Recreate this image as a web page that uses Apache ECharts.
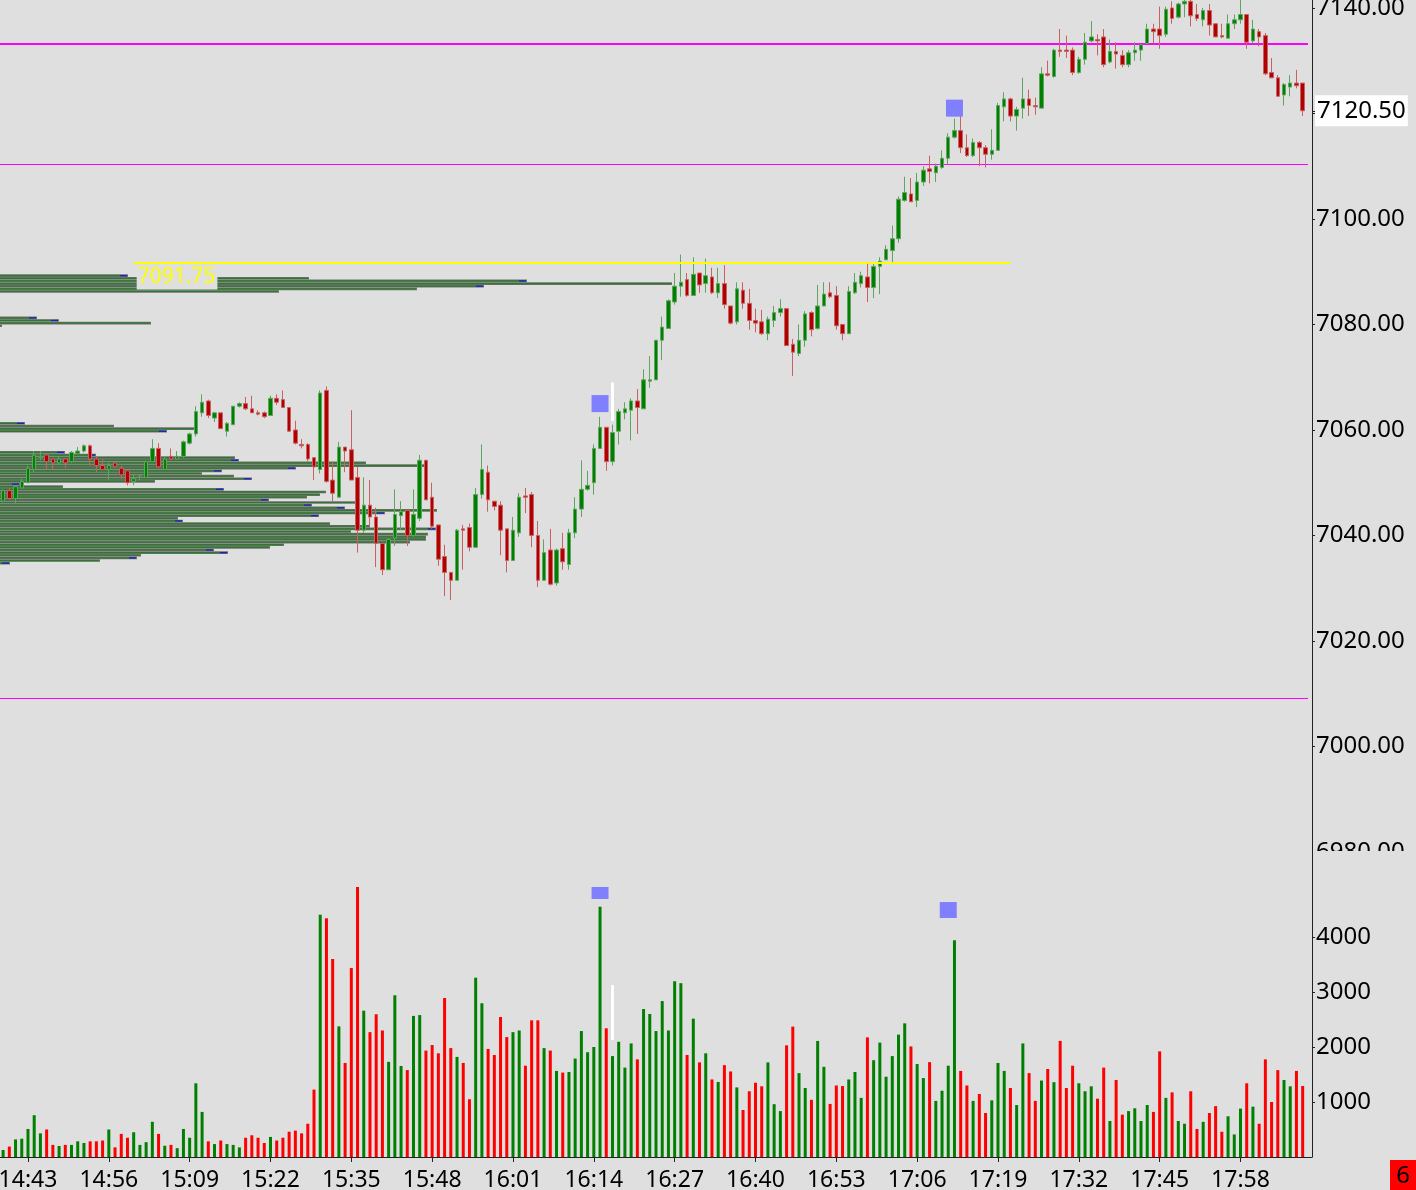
<!DOCTYPE html>
<html><head><meta charset="utf-8">
<script src="https://cdn.jsdelivr.net/npm/echarts@6/dist/echarts.min.js"></script>
<style>html,body{margin:0;padding:0;background:#dfdfdf;overflow:hidden}#c{width:1416px;height:1190px}</style>
</head><body><div id="c"></div>
<script>
// ---------- DATA ----------
const startMinute = 14 * 60 + 39;   // first bar 14:39, one-minute bars
const barCount = 211;               // category slots (last one empty)
const opens = [7046.5,7048.5,7047,7049,7050,7052.5,7054.75,7055.25,7054.5,7053.75,7054.5,7054,7055.5,7056,7057,7054.5,7053.25,7052.5,7053.75,7052.75,
7052.25,7050.25,7051,7051,7054,7056.5,7052.5,7055,7054.5,7055,7057.5,7059.25,7063.25,7065.5,7062.25,7063.25,7059.75,7061,7064.5,7065,
7064,7063.25,7063.25,7062.75,7066,7065.75,7064.25,7060,7057.25,7057.25,7054.75,7052.5,7067.5,7050.5,7047.25,7056.75,7056.25,7051,7041,7045.75,
7043.5,7038.5,7033.5,7039.5,7043.75,7044.75,7040,7043.25,7054.25,7047.25,7042,7036,7033,7031.5,7041.25,7041.5,7037.75,7047.75,7052,7046.5,
7045.75,7041.25,7035.25,7040.5,7047.5,7047.75,7040,7031.5,7037.25,7031,7037.5,7034.5,7040.5,7045,7048.75,7050,7056.5,7060.5,7054,7059.75,
7063.25,7063.75,7065.5,7064,7069.25,7069.5,7077,7079.25,7084.25,7087.25,7088.5,7085.5,7089.75,7087.75,7089,7086,7087.75,7083.5,7080.5,7086.5,
7084,7080.75,7080.5,7078.25,7080.75,7082.25,7083,7076.25,7074.5,7077,7082.25,7079.25,7083.5,7086,7085.5,7080,7078.25,7086,7087.75,7089,
7087,7091,7092.25,7094,7096.25,7103.5,7104.75,7103.5,7107,7109.5,7108.75,7109.75,7111.5,7115.5,7116.75,7113.5,7112,7114.5,7113.5,7112.25,
7113,7121.25,7122.75,7119.5,7121,7122.75,7121.5,7121,7127.5,7127,7132,7132,7132,7127.75,7130.25,7133.75,7134,7134.5,7129.75,7131.75,
7131,7129.25,7131.5,7132,7133.25,7136,7136,7135,7140,7138.25,7140.75,7141.25,7138.75,7137.75,7139.5,7137,7134.75,7134.25,7137,7137.75,
7138.75,7133.75,7135.5,7134.75,7127.75,7126.75,7123.5,7125,7125.75,7125.75];
const highs = [7048.75,7049,7049.5,7050.75,7053.25,7056,7056,7055.25,7054.5,7055,7054.5,7056,7056.75,7057.25,7057.25,7055,7054.5,7053.75,7054,7053.25,
7052.25,7051.5,7051.5,7054.25,7058.25,7057.5,7055,7056.5,7056,7058,7059.5,7064.5,7066.75,7065.75,7063.25,7063.25,7061.5,7064.5,7065.25,7066.25,
7066.5,7063.75,7063.5,7066.5,7066.75,7067.5,7064.25,7061.75,7058.25,7057.5,7054.75,7067.5,7068.25,7054,7057.75,7056.75,7063.75,7053,7051,7050.5,
7045.25,7038.5,7039.5,7048.75,7046.5,7044.75,7048.75,7055.25,7054.25,7050,7042,7038.25,7033,7041.25,7042,7042.25,7049,7057.25,7053.25,7046.5,
7046.5,7041.25,7043.5,7048,7049,7048.25,7042.75,7039.25,7041.25,7037.5,7040.5,7041.25,7047.25,7054.25,7052.25,7057.25,7062.5,7060.5,7061,7064,
7065.25,7066,7067.75,7071.5,7074,7077,7081.5,7084.75,7089.75,7093.25,7089.75,7092.75,7089.75,7092.5,7090.75,7090.75,7091.25,7083.5,7088,7088,
7086.75,7083,7082.75,7081.5,7083.5,7084.75,7083,7077.25,7080,7082.5,7082.5,7087.5,7088,7088,7087.25,7080,7087.25,7089.75,7090,7091.5,
7091.5,7092.75,7095,7098.75,7104.25,7108,7107.75,7108.75,7110,7112,7110.5,7113,7116.25,7119,7119.5,7116,7115.25,7114.75,7114,7117,
7122,7124,7123,7121.25,7126.75,7124.5,7123,7128.75,7130,7132.25,7136,7134.75,7132.5,7130.75,7135.25,7137.5,7135,7136,7134,7133.5,
7132,7132,7133.5,7133.25,7137,7137,7140.25,7140.25,7141.25,7141,7141.5,7141.5,7140.75,7140,7140.75,7137,7137,7138.75,7138.75,7141.5,
7138.75,7137.75,7136,7135.25,7130.5,7127.25,7125.75,7127.25,7128.25,7125.75];
const lows = [7046.25,7046.75,7046,7049,7050,7052,7054.25,7052.5,7052.5,7053.5,7052.75,7053.75,7055.5,7055.75,7053.25,7052,7052.5,7050.5,7052.75,7050.75,
7049.5,7049.5,7050.5,7051,7054,7052.75,7052.5,7054.25,7054.5,7054.75,7057.25,7058.75,7062.5,7062.25,7061.5,7060.25,7058.75,7061,7064.25,7063.75,
7063.25,7062.75,7062.25,7062.75,7064.75,7064.25,7059.75,7057.25,7056.5,7054,7050.5,7051.75,7050,7046.5,7047.25,7052,7050.5,7036.75,7040.5,7041.75,
7034,7032.5,7033.5,7038,7041,7038,7039.75,7042.75,7046.75,7041.25,7034.25,7028.5,7027.75,7031.5,7033.5,7037,7037.75,7047,7044.5,7044.75,
7036.25,7033,7035.25,7039.75,7044.25,7037.75,7030.25,7031.5,7030.5,7030.5,7033.5,7033.5,7039.5,7043.5,7048.5,7047.75,7056.5,7052.25,7053.25,7057.25,
7062,7058,7059.25,7064,7068,7069.5,7073.25,7079.25,7083.75,7085.25,7085.25,7085.5,7086,7086,7085.75,7085,7083,7080,7080,7083,
7079,7078.5,7078,7077,7079.5,7081.5,7076,7070.25,7074,7075.75,7077.75,7079,7083.5,7085,7079,7077,7078.25,7085.75,7087,7084.25,
7085,7085.75,7092.25,7091.5,7095.5,7103.25,7103.25,7102.25,7106.25,7106.75,7107,7109.5,7110.25,7115.25,7112.5,7111.75,7111.75,7110,7109.75,7111.25,
7113,7118.5,7118.5,7116.75,7119,7119.5,7119.75,7121,7127,7126.75,7130.75,7130.5,7127.25,7127.5,7129.25,7133.5,7131,7128.75,7129.5,7128.5,
7128.75,7128.75,7130,7130,7133.25,7133.25,7132.25,7134.5,7137,7138,7138.25,7136.5,7137.5,7136.5,7134.75,7134.5,7134.25,7134.25,7136,7137,
7132.25,7133.25,7132.75,7127.25,7126.75,7123.25,7121.5,7123.25,7124.75,7119.5];
const closes = [7048.5,7047,7049.25,7050.25,7052.75,7055.25,7055,7054,7053.75,7054.5,7053.75,7055.75,7056,7057,7054.5,7053.25,7052.5,7053.25,7053,7051.5,
7050,7050.75,7051.25,7054,7056.5,7053,7054.5,7054.5,7055,7057.75,7059.25,7063.5,7065.25,7062.75,7063.25,7060.25,7061.25,7064.5,7065,7064,
7063.25,7063,7062.5,7066,7065.25,7064.25,7059.75,7057.5,7057,7054.5,7053,7067,7050.25,7048,7056.75,7056,7050.5,7041,7045.75,7043.5,
7038.5,7033.5,7039.25,7044,7044.5,7040,7044,7054.25,7046.75,7041.75,7035.5,7033,7031.5,7041,7041,7037.75,7047.75,7052.5,7046.75,7045.5,
7041,7035.25,7041,7047.25,7047.25,7040,7031.5,7036.75,7030.75,7037.25,7035,7040.5,7045,7048.75,7049.5,7056.5,7060.5,7054,7059.5,7063.5,
7064,7065.5,7064.25,7069.5,7069.5,7077,7079.5,7084.5,7087.25,7088,7085.5,7089.5,7087.5,7089.25,7086,7087.75,7083.75,7080.25,7086.75,7084,
7080.75,7080.25,7078.25,7081,7082.25,7083,7076,7074.75,7077,7082,7079,7083.5,7085.75,7085.25,7079.75,7078.25,7086.25,7088,7089.25,7087,
7091,7092,7094.25,7096.25,7103.75,7105,7103.25,7107,7109.25,7109,7110,7111.5,7115.5,7116.75,7113.5,7112,7114.5,7113.5,7112.25,7113,
7121.5,7122.75,7119.5,7120.75,7122.75,7121.5,7121.25,7127.5,7127.25,7132,7131.75,7131.75,7127.75,7130.25,7133.5,7134.5,7133.75,7129.25,7131.75,7131.25,
7129.25,7131.5,7132,7133,7136,7135.5,7134.75,7139.75,7138,7140.75,7141.25,7138.5,7138,7139.5,7136.75,7134.5,7134.5,7137,7137.75,7138.75,
7133.5,7136,7134.5,7127.5,7126.75,7123.25,7125.5,7125.75,7125.25,7120.5];
const volumes = [127,190,320,333,510,760,430,500,220,200,220,220,285,255,285,285,300,500,175,420,
350,450,220,270,640,420,205,220,160,510,350,1340,820,285,235,300,235,220,175,350,
395,350,255,365,300,350,460,480,430,605,1225,4405,4340,3600,2375,1710,3435,4910,2660,2270,
2595,2300,1730,2940,1655,1580,2565,2580,1935,2035,1885,2890,1980,1820,1710,1050,3260,2795,1965,1855,
2545,2180,2270,2300,1660,2485,2485,1980,1935,1565,1535,1545,1790,2290,1905,2000,4550,2340,1835,2095,
1625,2065,1775,2690,2600,2290,2835,2300,3195,3160,1855,2515,1720,1885,1410,1365,1670,1555,1265,855,
1195,1350,1285,1720,960,835,2030,2370,1525,1255,1040,2110,1640,965,1300,1290,1410,1545,1075,2175,
1760,2080,1460,1835,2225,2430,2010,1690,1435,1725,1020,1205,1660,3940,1565,1300,1020,1145,800,1030,
1710,1565,1255,945,2065,1525,1020,1390,1600,1360,2110,1255,1660,1340,1195,1285,1060,1625,655,1400,
770,835,885,655,945,820,1920,1075,1175,655,605,1195,510,640,800,925,460,740,410,880,
1340,915,605,1775,1000,1580,1400,1285,1565,1290];
// volume-at-price profile (price level, volume units, imbalance flag)
const profilePrices = [7089.25,7088.75,7088.25,7087.75,7087.25,7086.75,7086.25,
7081.25,7080.75,7080.25,7079.75,
7061.25,7060.75,7060.25,7059.75,
7055.75,7055.25,7054.75,7054.25,7053.75,7053.25,7052.75,7052.25,7051.75,7051.25,7050.75,7050.25,7049.75,7049.25,7048.75,
7048.25,7047.75,7047.25,7046.75,7046.25,7045.75,7045.25,7044.75,7044.25,7043.75,7043.25,7042.75,7042.25,7041.75,7041.25,
7040.75,7040.25,7039.75,7039.25,7038.75,7038.25,7037.75,7037.25,7036.75,7036.25,7035.75,7035.25,7034.75];
const profileVolumes = [128,309,527,672,484,417,279,
37,59,151,2,
25,114,195,167,
65,96,235,239,366,425,296,222,202,234,252,155,20,63,224,
326,320,307,269,357,312,345,437,385,319,178,183,330,370,436,
351,428,426,426,410,284,270,214,228,141,137,100,10];
const profileFlags = [1,0,1,0,1,0,0,
1,1,0,0,
1,0,0,1,
1,1,0,1,0,0,1,1,0,0,1,0,1,0,1,
0,0,0,1,0,1,1,0,1,1,0,1,0,0,1,
0,0,0,0,0,0,0,1,1,0,1,0,1];
const priceTicks = [6980,7000,7020,7040,7060,7080,7100,7120,7140];
const volumeTicks = [1000,2000,3000,4000];
const hLevels = [7133.25,7110.5,7009.25];     // magenta levels
const hLevelWidths = [2,1,1];
const yellowLevel = 7091.75, yellowFrom = 21, yellowTo = 162;
const signalBars = [96,153], signalPrices = [7065,7121];
const volSignalBars = [96,152], volSignalValues = [4800,4490];
const markBar = 98, markPriceRange = [7061.75,7069], markVolRange = [2127,3127];

// ---------- BUILD ----------
const times = [];
for (let k = 0; k < barCount; k++) {
  const m = startMinute + k;
  times.push(String(Math.floor(m / 60)).padStart(2,'0') + ':' + String(m % 60).padStart(2,'0'));
}
const FONT = 'Noto Sans';
const BG = '#dfdfdf';
const candleData = opens.map((o,i)=>[o, closes[i], lows[i], highs[i]]);
const volData = volumes.map((v,i)=>({value:v, itemStyle:{color: closes[i] >= opens[i] ? '#008000' : '#ff0000'}}));
const profileData = profilePrices.map((p,i)=>[profileVolumes[i], p, profileFlags[i]]);
const lastClose = closes[closes.length-1];
const showEvery = (i) => (i - 4) % 13 === 0;

function renderProfile(params, api) {
  const len = api.value(0), price = api.value(1), flag = api.value(2);
  const p0 = api.coord([0, price]);
  const p1 = api.coord([len, price]);
  const h = Math.abs(api.size([0, 0.5])[1]);
  const w = Math.max(1, p1[0] - p0[0]);
  const children = [
    {type:'rect', shape:{x:p0[0], y:p0[1]-h/2, width:w, height:h}, style:{fill:'#707070'}},
    {type:'rect', shape:{x:p0[0], y:p0[1]-h/2+0.7, width:Math.max(0,w-1), height:h-1.4}, style:{fill:'#2c7a2c'}}
  ];
  if (flag) children.push({type:'rect', shape:{x:p1[0]-8, y:p0[1]-h/2+0.7, width:7, height:h-1.4}, style:{fill:'#1c1cd0'}});
  return {type:'group', children};
}
function renderMark(params, api) {
  const a = api.coord([api.value(0), api.value(1)]);
  const b = api.coord([api.value(0), api.value(2)]);
  return {type:'line', shape:{x1:a[0], y1:a[1], x2:b[0], y2:b[1]}, style:{stroke:'#ffffff', lineWidth:3}};
}
function renderLevel(params, api) {
  const cs = params.coordSys;
  const y = api.coord([0, api.value(0)])[1];
  const w = api.value(1);
  const yy = w % 2 === 1 ? Math.round(y) + 0.5 : Math.round(y);
  return {type:'line', shape:{x1:cs.x, y1:yy, x2:cs.x + cs.width - 4, y2:yy},
          style:{stroke:'#ff00ff', lineWidth:w}};
}

const chart = echarts.init(document.getElementById('c'), null, {renderer:'canvas'});
chart.setOption({
  backgroundColor: BG,
  animation: false,
  textStyle: {fontFamily: FONT},
  grid: [
    {left:0, top:0, width:1312, height:852, outerBoundsMode:'none', containLabel:false},
    {left:0, top:852, width:1312, height:305, outerBoundsMode:'none', containLabel:false}
  ],
  xAxis: [
    {type:'category', gridIndex:0, data:times, boundaryGap:true, show:false},
    {type:'category', gridIndex:1, data:times, boundaryGap:true,
      axisLine:{show:true, onZero:false, lineStyle:{color:'#222', width:1}},
      axisTick:{show:true, alignWithLabel:true, interval:showEvery, length:5, lineStyle:{color:'#222'}},
      axisLabel:{interval:showEvery, color:'#000', fontSize:23, margin:12, fontFamily:FONT},
      splitLine:{show:false}},
    {type:'value', gridIndex:0, min:0, max:1312, show:false,
      axisLine:{show:false, onZero:false}, axisTick:{show:false}, axisLabel:{show:false}, splitLine:{show:false}}
  ],
  yAxis: [
    {type:'value', gridIndex:0, position:'right', min:6980, max:7141.5, interval:20,
      axisLine:{show:true, onZero:false, lineStyle:{color:'#222'}},
      axisTick:{show:true, length:3, inside:false, lineStyle:{color:'#222'}, customValues: priceTicks.concat([lastClose])},
      axisLabel:{formatter:(v)=>v.toFixed(2), color:'#000', fontSize:24, margin:4, fontFamily:FONT, showMaxLabel:false},
      splitLine:{show:false}},
    {type:'value', gridIndex:1, position:'right', min:0, max:5545,
      axisLine:{show:true, onZero:false, lineStyle:{color:'#222'}},
      axisTick:{show:true, length:3, lineStyle:{color:'#222'}, customValues: volumeTicks},
      axisLabel:{customValues: volumeTicks, formatter:(v)=>String(v), color:'#000', fontSize:24, margin:4, fontFamily:FONT},
      splitLine:{show:false}}
  ],
  series: [
    {type:'custom', name:'profile', xAxisIndex:2, yAxisIndex:0, z:1, silent:true,
      renderItem: renderProfile, encode:{x:0, y:1}, data: profileData, clip:true},
    {type:'custom', name:'hlevels', xAxisIndex:2, yAxisIndex:0, z:2, silent:true,
      renderItem: renderLevel, encode:{y:0}, data: hLevels.map((v,i)=>[v, hLevelWidths[i]])},
    {type:'candlestick', name:'price', xAxisIndex:0, yAxisIndex:0, z:3, barWidth:4,
      itemStyle:{color:'#008000', color0:'#b00000', borderColor:'#5fa55f', borderColor0:'#c86262', borderWidth:1},
      data: candleData},
    {type:'line', name:'levels', xAxisIndex:0, yAxisIndex:0, z:4, data:[], silent:true,
      markLine:{symbol:['none','none'], silent:true, animation:false,
        data:[
          [
            {coord:[times[yellowFrom], yellowLevel], lineStyle:{color:'#ffff00', width:2, type:'solid'},
              label:{show:true, position:'insideStartBottom', distance:3, formatter:yellowLevel.toFixed(2), color:'#ffff00',
                fontSize:21, fontFamily:FONT, backgroundColor:BG, padding:[1,2,2,1]}},
            {coord:[times[yellowTo], yellowLevel]}
          ]
        ]}
    },
    {type:'line', name:'last', xAxisIndex:0, yAxisIndex:0, z:6, data:[], silent:true,
      markLine:{symbol:['none','none'], silent:true, animation:false,
        data:[{yAxis:lastClose, lineStyle:{color:'rgba(0,0,0,0)', width:0},
          label:{show:true, position:'end', distance:3, formatter:lastClose.toFixed(2),
            color:'#000', fontSize:24, fontFamily:FONT, backgroundColor:'#ffffff', padding:[4,2,3,2]}}]}
    },
    {type:'bar', name:'volume', xAxisIndex:1, yAxisIndex:1, z:2, barWidth:3, data: volData},
    {type:'custom', name:'markP', xAxisIndex:0, yAxisIndex:0, z:4, renderItem:renderMark, encode:{x:0, y:[1,2]},
      data:[[markBar, markPriceRange[0], markPriceRange[1]]]},
    {type:'custom', name:'markV', xAxisIndex:1, yAxisIndex:1, z:4, renderItem:renderMark, encode:{x:0, y:[1,2]},
      data:[[markBar, markVolRange[0], markVolRange[1]]]},
    {type:'scatter', name:'sig', xAxisIndex:0, yAxisIndex:0, z:5, symbol:'rect', symbolSize:17,
      itemStyle:{color:'#8080ff', opacity:1},
      data: signalBars.map((b,i)=>[b, signalPrices[i]])},
    {type:'scatter', name:'vsig', xAxisIndex:1, yAxisIndex:1, z:5, symbol:'rect',
      itemStyle:{color:'#8080ff', opacity:1},
      data: [{value:[volSignalBars[0], volSignalValues[0]], symbolSize:[17,12]},
             {value:[volSignalBars[1], volSignalValues[1]], symbolSize:[17,16]}]}
  ],
  graphic: [
    {type:'rect', z:100, shape:{x:1313, y:851, width:103, height:16}, style:{fill:BG}},
    {type:'rect', z:100, shape:{x:1390, y:1160, width:26, height:30}, style:{fill:'#ff0000'}},
    {type:'text', z:101, x:1403, y:1176, style:{text:'6', fill:'#000', fontSize:24, fontFamily:FONT, align:'center', verticalAlign:'middle', textAlign:'center', textVerticalAlign:'middle'}}
  ]
});
</script>
</body></html>
